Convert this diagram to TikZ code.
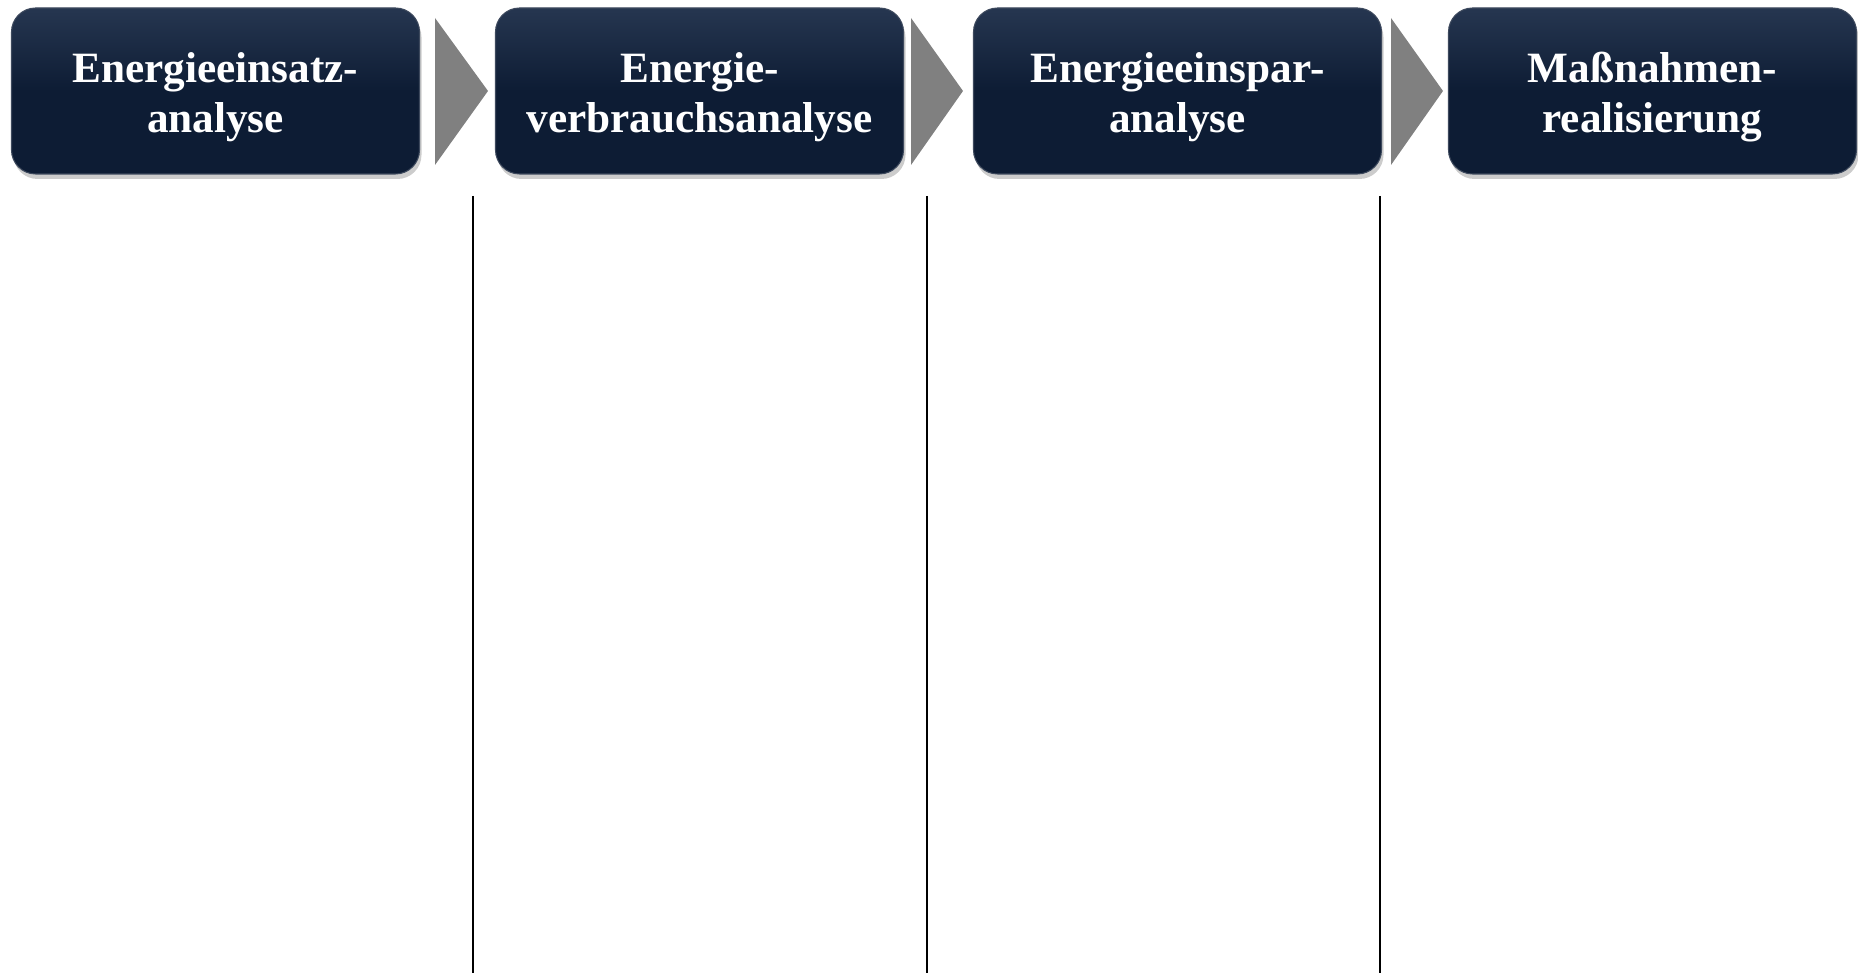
\documentclass[tikz,border=0pt]{standalone}
\usepackage{fontspec}
\setmainfont{Liberation Serif}
\usetikzlibrary{shadows}
\definecolor{navy}{RGB}{13,28,52}
\definecolor{navytop}{RGB}{38,54,80}
\definecolor{chevgray}{RGB}{128,128,128}
\tikzset{
  phase/.style={rounded corners=0.24cm,minimum width=4.08cm,minimum height=1.66cm,
    top color=navytop,bottom color=navy,middle color=navy,draw=navy!80!white,line width=0.3pt,
    drop shadow={shadow xshift=0.02cm,shadow yshift=-0.05cm,opacity=0.4},inner sep=0pt},
  phasetext/.style={text=white,align=center,font=\fontsize{12.3}{14.4}\selectfont\bfseries,inner sep=0pt},
  chev/.style={fill=chevgray,draw=none}
}
\begin{document}
\begin{tikzpicture}
	    \useasboundingbox(0,0)rectangle(18.58,9.73);
	    \node[phase](ein) at (2.155,8.82){};
	    \node[phase](verb) at (6.995,8.82){};
	    \node[phase](spar) at (11.775,8.82){};
	    \node[phase](mass) at (16.525,8.82){};
	    \node[phasetext](ein-t) at ([yshift=-0.06cm]ein.center){Energieeinsatz-\\analyse};
	    \node[phasetext](verb-t) at ([yshift=-0.06cm]verb.center){Energie-\\verbrauchsanalyse};
	    \node[phasetext](spar-t) at ([yshift=-0.06cm]spar.center){Energieeinspar-\\analyse};
	    \node[phasetext](mass-t) at ([yshift=-0.06cm]mass.center){Maßnahmen-\\realisierung};
	    \fill[chev](4.35,9.55)--(4.88,8.82)--(4.35,8.08)--cycle;
	    \fill[chev](9.11,9.55)--(9.63,8.82)--(9.11,8.08)--cycle;
	    \fill[chev](13.91,9.55)--(14.43,8.82)--(13.91,8.08)--cycle;
	    \draw[line width=0.6pt](4.73,7.77)--(4.73,0);
	    \draw[line width=0.6pt](9.27,7.77)--(9.27,0);
	    \draw[line width=0.6pt](13.80,7.77)--(13.80,0);
	\end{tikzpicture}
\end{document}
